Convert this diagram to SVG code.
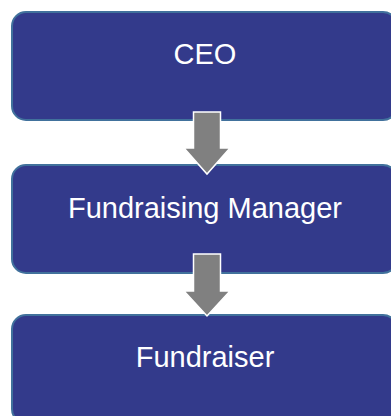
<svg xmlns="http://www.w3.org/2000/svg" width="391" height="416" viewBox="0 0 391 416">
<style>
.box{fill:#333a8b;stroke:#41719c;stroke-width:2}
.lbl{fill:#ffffff;font-family:"Liberation Sans",Arial,sans-serif;font-size:29px;text-anchor:middle}
.arr{fill:#808080;stroke:#ffffff;stroke-width:1.5;stroke-linejoin:miter}
</style>
<rect width="391" height="416" fill="#ffffff"/>
<g id="ceo">
<rect class="box" x="12" y="12" width="385" height="108" rx="14" ry="14"/>
<text class="lbl" x="205" y="64">CEO</text>
</g>
<g id="fundraising-manager">
<rect class="box" x="12" y="165" width="385" height="108" rx="14" ry="14"/>
<text class="lbl" x="205" y="218">Fundraising Manager</text>
</g>
<g id="fundraiser">
<rect class="box" x="12" y="315" width="385" height="108" rx="14" ry="14"/>
<text class="lbl" x="205" y="367">Fundraiser</text>
</g>
<g id="connectors">
<path class="arr" d="M193.5 112 H220.5 V148 H230 L207 174 L184 148 H193.5 Z"/>
<path class="arr" d="M193.5 254 H220.5 V291 H230 L207 316 L184 291 H193.5 Z"/>
</g>
</svg>
